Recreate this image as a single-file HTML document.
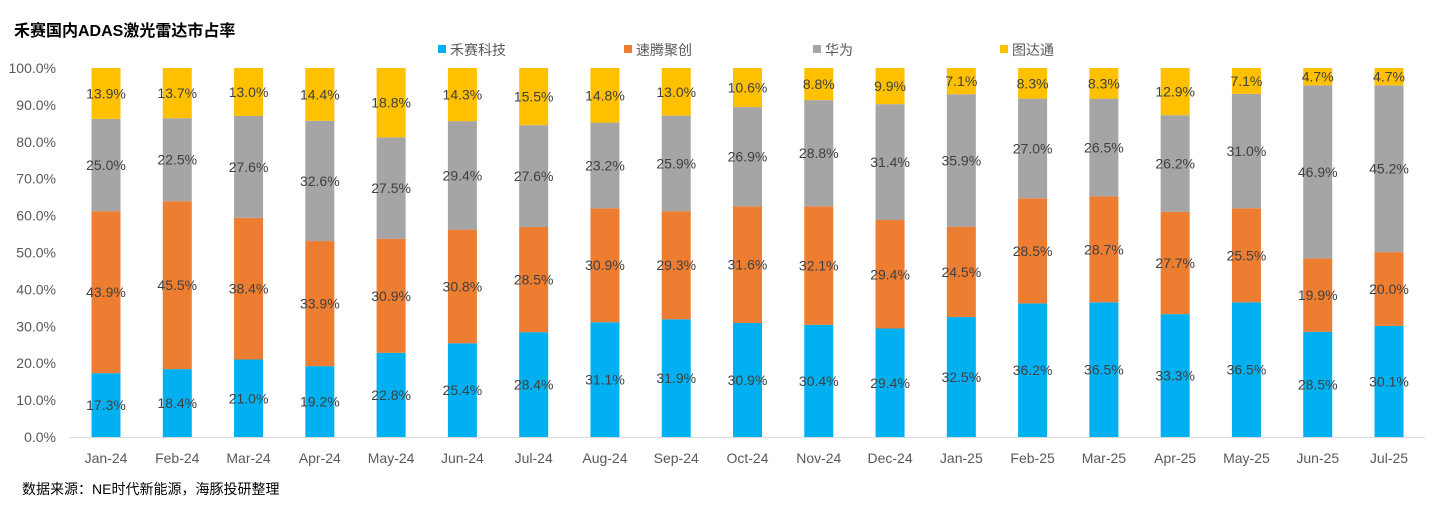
<!DOCTYPE html>
<html><head><meta charset="utf-8">
<style>
body{margin:0;background:#fff;width:1440px;height:505px;overflow:hidden;font-family:"Liberation Sans","Noto Sans CJK SC",sans-serif;}
</style></head>
<body>
<svg id="chart" width="1440" height="505" xmlns="http://www.w3.org/2000/svg">
<text x="14" y="36" font-size="16" font-weight="bold" fill="#000">禾赛国内ADAS激光雷达市占率</text>
<g id="legend"></g>
<g id="yaxis"></g>
<g id="bars"></g>
<g id="xaxis"></g>
<text x="22" y="494" font-size="14" fill="#000">数据来源：NE时代新能源，海豚投研整理</text>
</svg>
<script>
const categories=["Jan-24","Feb-24","Mar-24","Apr-24","May-24","Jun-24","Jul-24","Aug-24","Sep-24","Oct-24","Nov-24","Dec-24","Jan-25","Feb-25","Mar-25","Apr-25","May-25","Jun-25","Jul-25"];
const hesai=[17.3,18.4,21.0,19.2,22.8,25.4,28.4,31.1,31.9,30.9,30.4,29.4,32.5,36.2,36.5,33.3,36.5,28.5,30.1];
const robosense=[43.9,45.5,38.4,33.9,30.9,30.8,28.5,30.9,29.3,31.6,32.1,29.4,24.5,28.5,28.7,27.7,25.5,19.9,20.0];
const huawei=[25.0,22.5,27.6,32.6,27.5,29.4,27.6,23.2,25.9,26.9,28.8,31.4,35.9,27.0,26.5,26.2,31.0,46.9,45.2];
const seyond=[13.9,13.7,13.0,14.4,18.8,14.3,15.5,14.8,13.0,10.6,8.8,9.9,7.1,8.3,8.3,12.9,7.1,4.7,4.7];
const seriesNames=["禾赛科技","速腾聚创","华为","图达通"];
const yTicks=[0,10,20,30,40,50,60,70,80,90,100];

const NS="http://www.w3.org/2000/svg";
const colors=["#00B0F0","#ED7D31","#A5A5A5","#FFC000"];
const series=[hesai,robosense,huawei,seyond];
const y0=437,y100=68;
const yScale=v=>y0-(y0-y100)*v/100;
const xStart=106,xStep=(1389-106)/18;
const xScale=i=>xStart+i*xStep;
const bw=29;
function mk(tag,attrs,parent){const e=document.createElementNS(NS,tag);for(const k in attrs)e.setAttribute(k,attrs[k]);parent.appendChild(e);return e;}

const ya=document.getElementById('yaxis');
yTicks.forEach(t=>{
  const tx=mk('text',{x:56,y:yScale(t)+5,'text-anchor':'end','font-size':14,fill:'#595959'},ya);
  
  
  tx.textContent=t.toFixed(1)+'%';
});
const axl=mk('line',{x1:70,x2:1425,y1:y0+0.5,y2:y0+0.5,stroke:'#D9D9D9','stroke-width':1},ya);



const bars=document.getElementById('bars');
const xa=document.getElementById('xaxis');
categories.forEach((c,i)=>{
  let cum=0;
  const cx=xScale(i);
  series.forEach((s,k)=>{
    const v=s[i];
    let top=cum+v;
    if(k===3) top=100;
    const yT=yScale(top),yB=yScale(cum);
    const r=mk('rect',{x:cx-bw/2,y:yT,width:bw,height:yB-yT,fill:colors[k]},bars);
    
    
    const lab=mk('text',{x:cx,y:(yT+yB)/2+5,'text-anchor':'middle','font-size':14,fill:'#404040'},bars);
    
    
    lab.textContent=v.toFixed(1)+'%';
    cum+=v;
  });
  const xl=mk('text',{x:cx,y:463,'text-anchor':'middle','font-size':14,fill:'#595959'},xa);
  
  
  xl.textContent=c;
});

const lg=document.getElementById('legend');
const lx=[438,624,813,1000];
seriesNames.forEach((n,k)=>{
  const sq=mk('rect',{x:lx[k],y:45,width:8,height:8,fill:colors[k]},lg);
  
  
  const t=mk('text',{x:lx[k]+12,y:55,'font-size':14,fill:'#595959'},lg);
  
  
  t.textContent=n;
});
</script>
</body></html>
